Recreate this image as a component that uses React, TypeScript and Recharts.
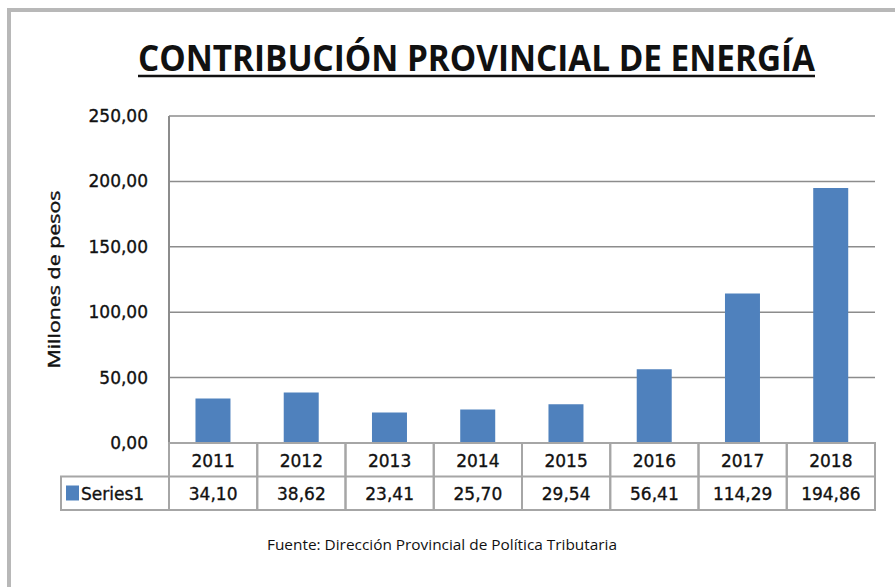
import { BarChart, Bar, XAxis, YAxis, CartesianGrid } from "recharts"

const YEARS = ["2011", "2012", "2013", "2014", "2015", "2016", "2017", "2018"]
const VALUES = [34.1, 38.62, 23.41, 25.7, 29.54, 56.41, 114.29, 194.86]
const Y_TICKS = [0, 50, 100, 150, 200, 250]
const SERIES_NAME = "Series1"
const TITLE = "CONTRIBUCIÓN PROVINCIAL DE ENERGÍA"
const Y_LABEL = "Millones de pesos"
const SOURCE = "Fuente: Dirección Provincial de Política Tributaria"

const BAR_COLOR = "#4f81bd"
const GRID = "#8c8c8c"
const TABLE_LINE = "#a6a6a6"
const INK = "#111"
const NUM_FONT = "'DejaVu Sans', Verdana, sans-serif"
const TEXT_FONT = "'Open Sans', 'Noto Sans', sans-serif"

const W = 895
const H = 587
const PLOT_LEFT = 169
const PLOT_RIGHT = 875
const COL_W = (PLOT_RIGHT - PLOT_LEFT) / YEARS.length
const ROW_H = 33.5

const data = YEARS.map((year, i) => ({ year, value: VALUES[i] }))

const fmt = (v: number) => v.toFixed(2).replace(".", ",")

// slightly heavier text, like the reference
const numText = { fontFamily: NUM_FONT, fontSize: 17, fill: INK, stroke: INK, strokeWidth: 0.35 }

function TableTick(props: any) {
  const { x, y, payload, index } = props
  const left = x - COL_W / 2
  return (
    <g>
      <rect x={left} y={y} width={COL_W} height={ROW_H * 2} fill="none" stroke={TABLE_LINE} strokeWidth={2} />
      <line x1={left} x2={left + COL_W} y1={y + ROW_H} y2={y + ROW_H} stroke={TABLE_LINE} strokeWidth={2} />
      <text x={x} y={y + ROW_H / 2 + 1} textAnchor="middle" dominantBaseline="central" {...numText}>
        {payload.value}
      </text>
      <text x={x} y={y + ROW_H * 1.5 + 1} textAnchor="middle" dominantBaseline="central" {...numText}>
        {fmt(VALUES[index])}
      </text>
      {index === 0 && (
        <g>
          <rect x={left - 108} y={y + ROW_H} width={108} height={ROW_H} fill="none" stroke={TABLE_LINE} strokeWidth={2} />
          <rect x={left - 103} y={y + ROW_H + 9} width={13} height={15} fill={BAR_COLOR} />
          <text x={left - 88} y={y + ROW_H * 1.5 + 1} dominantBaseline="central" {...numText}>
            {SERIES_NAME}
          </text>
        </g>
      )}
    </g>
  )
}

function YLabel(props: any) {
  const vb = props.viewBox || { y: 116, height: 327 }
  const cx = 53
  const cy = vb.y + vb.height / 2
  return (
    <text
      x={cx}
      y={cy}
      transform={`rotate(-90, ${cx}, ${cy})`}
      textAnchor="middle"
      dominantBaseline="central"
      fontFamily={TEXT_FONT}
      fontSize={17}
      textLength={178}
      lengthAdjust="spacingAndGlyphs"
      fill={INK}
      stroke={INK}
      strokeWidth={0.4}
    >
      {Y_LABEL}
    </text>
  )
}

export default function App() {
  return (
    <div style={{ position: "absolute", left: 0, top: 0, width: W, height: H, overflow: "hidden", background: "#fff" }}>
      <div
        style={{
          position: "absolute",
          left: 7,
          top: 8,
          width: 1000,
          height: 1000,
          borderLeft: "4px solid #b8b8b8",
          borderTop: "4px solid #b8b8b8",
        }}
      />
      <div style={{ position: "absolute", left: 0, top: 0 }}>
        <BarChart
          width={W}
          height={H}
          data={data}
          margin={{ top: 116, right: W - PLOT_RIGHT, bottom: 77, left: 0 }}
          barCategoryGap="30%"
        >
          <CartesianGrid vertical={false} stroke={GRID} strokeWidth={1.5} />
          <YAxis
            width={PLOT_LEFT}
            domain={[0, 250]}
            ticks={Y_TICKS}
            tickFormatter={fmt}
            tickLine={false}
            tickSize={0}
            tickMargin={21}
            axisLine={{ stroke: GRID, strokeWidth: 2 }}
            tick={numText}
            label={<YLabel />}
          />
          <XAxis
            dataKey="year"
            height={67}
            interval={0}
            tickLine={false}
            tickSize={0}
            tickMargin={0}
            axisLine={{ stroke: GRID, strokeWidth: 2 }}
            tick={<TableTick />}
          />
          <Bar dataKey="value" fill={BAR_COLOR} isAnimationActive={false} />
        </BarChart>
      </div>
      <svg width={W} height={H} style={{ position: "absolute", left: 0, top: 0, pointerEvents: "none" }}>
        <text
          x={476.5}
          y={71}
          textAnchor="middle"
          fontFamily={TEXT_FONT}
          fontWeight="bold"
          fontSize={36}
          textLength={677}
          lengthAdjust="spacingAndGlyphs"
          fill={INK}
        >
          {TITLE}
        </text>
        <line x1={138} x2={815} y1={76} y2={76} stroke={INK} strokeWidth={2.5} />
        <text
          x={442}
          y={550}
          textAnchor="middle"
          fontFamily={TEXT_FONT}
          fontSize={14}
          textLength={350}
          lengthAdjust="spacingAndGlyphs"
          fill={INK}
        >
          {SOURCE}
        </text>
      </svg>
    </div>
  )
}
